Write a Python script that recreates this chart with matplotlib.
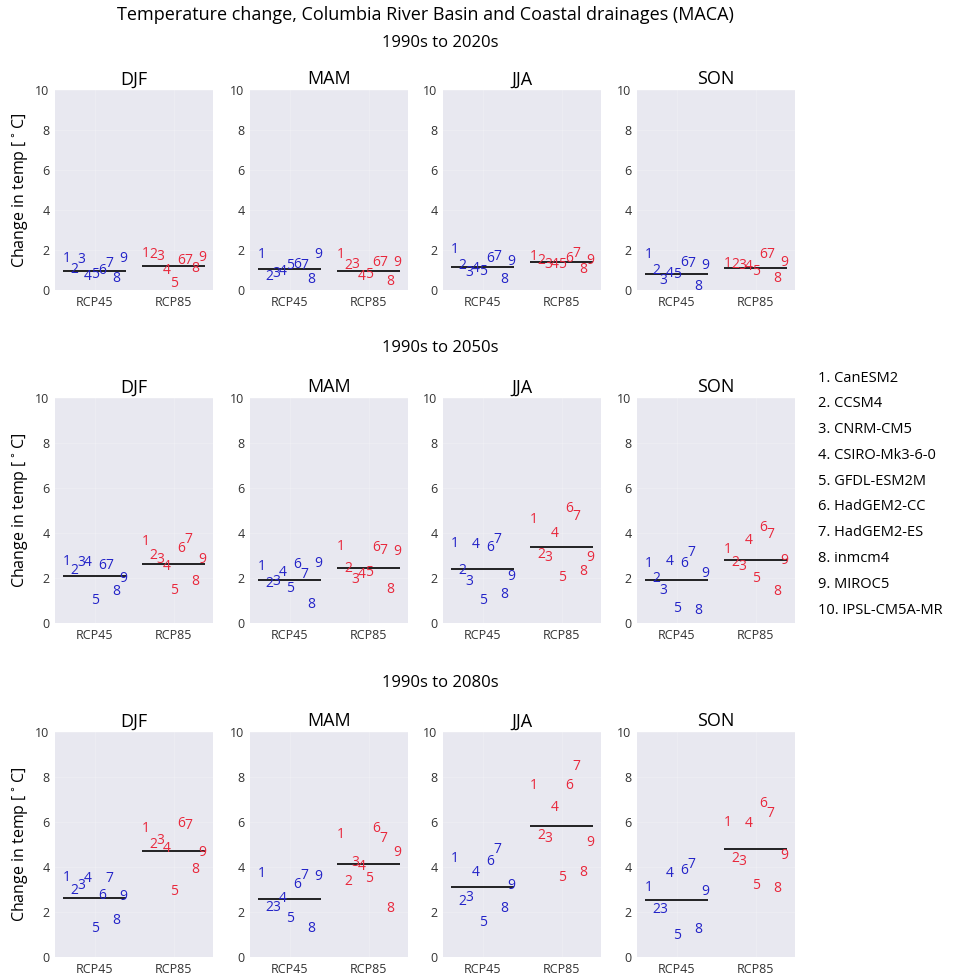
import matplotlib
matplotlib.use('Agg')
import matplotlib.pyplot as plt
import numpy as np

seasons = ['DJF', 'MAM', 'JJA', 'SON']
periods = ['1990s to 2020s', '1990s to 2050s', '1990s to 2080s']
scenarios = ['RCP45', 'RCP85']
models = ['CanESM2', 'CCSM4', 'CNRM-CM5', 'CSIRO-Mk3-6-0', 'GFDL-ESM2M',
          'HadGEM2-CC', 'HadGEM2-ES', 'inmcm4', 'MIROC5', 'IPSL-CM5A-MR']

# change in temp per model (models 1-9), one row per season
rcp45_2020s = [[1.42, 0.83, 1.33, 0.50, 0.58, 0.78, 1.17, 0.38, 1.42],
               [1.58, 0.50, 0.67, 0.75, 1.05, 1.08, 1.05, 0.33, 1.62],
               [1.83, 1.05, 0.72, 0.92, 0.75, 1.42, 1.50, 0.33, 1.25],
               [1.58, 0.78, 0.28, 0.67, 0.58, 1.20, 1.17, 0.02, 1.05]]
rcp85_2020s = [[1.67, 1.62, 1.50, 0.78, 0.17, 1.28, 1.28, 0.88, 1.45],
               [1.62, 1.05, 1.08, 0.50, 0.62, 1.20, 1.20, 0.25, 1.20],
               [1.50, 1.28, 1.08, 1.08, 1.12, 1.42, 1.67, 0.83, 1.28],
               [1.17, 1.12, 1.05, 1.00, 0.75, 1.62, 1.62, 0.42, 1.20]]
rcp45_2050s = [[2.58, 2.16, 2.53, 2.53, 0.83, 2.40, 2.40, 1.24, 1.84],
               [2.36, 1.61, 1.69, 2.10, 1.39, 2.46, 1.99, 0.68, 2.50],
               [3.39, 2.16, 1.69, 3.35, 0.83, 3.20, 3.54, 1.13, 1.91],
               [2.50, 1.81, 1.27, 2.58, 0.47, 2.50, 2.99, 0.39, 2.06]]
rcp85_2050s = [[3.47, 2.84, 2.65, 2.36, 1.27, 3.14, 3.54, 1.69, 2.65],
               [3.24, 2.28, 1.76, 1.99, 2.10, 3.20, 3.05, 1.32, 3.02],
               [4.43, 2.90, 2.76, 3.84, 1.87, 4.92, 4.58, 2.13, 2.76],
               [3.10, 2.55, 2.36, 3.50, 1.81, 4.09, 3.76, 1.24, 2.61]]
rcp45_2080s = [[3.39, 2.80, 3.02, 3.32, 1.13, 2.58, 3.35, 1.47, 2.55],
               [3.54, 2.06, 2.06, 2.43, 1.57, 3.05, 3.47, 1.10, 3.44],
               [4.24, 2.31, 2.50, 3.61, 1.36, 4.09, 4.62, 2.01, 3.02],
               [2.95, 1.96, 1.96, 3.57, 0.80, 3.69, 3.94, 1.07, 2.76]]
rcp85_2080s = [[5.54, 4.83, 5.02, 4.65, 2.76, 5.76, 5.69, 3.73, 4.50],
               [5.27, 3.20, 4.03, 3.88, 3.35, 5.54, 5.13, 2.01, 4.47],
               [7.47, 5.24, 5.10, 6.50, 3.39, 7.47, 8.31, 3.61, 4.95],
               [5.84, 4.24, 4.09, 5.76, 3.02, 6.65, 6.21, 2.90, 4.36]]

# ensemble mean lines (DJF, MAM, JJA, SON)
mean45_2020s = [0.97, 1.03, 1.17, 0.78]
mean85_2020s = [1.22, 0.97, 1.38, 1.12]
mean45_2050s = [2.10, 1.90, 2.40, 1.90]
mean85_2050s = [2.64, 2.44, 3.38, 2.81]
mean45_2080s = [2.62, 2.58, 3.11, 2.55]
mean85_2080s = [4.73, 4.15, 5.82, 4.81]

data = [(rcp45_2020s, rcp85_2020s, mean45_2020s, mean85_2020s),
        (rcp45_2050s, rcp85_2050s, mean45_2050s, mean85_2050s),
        (rcp45_2080s, rcp85_2080s, mean45_2080s, mean85_2080s)]

colors = ['#2323c8', '#e8283c']
plt.rcParams['font.family'] = ['Open Sans', 'DejaVu Sans']

fig = plt.figure(figsize=(9.77, 9.76), dpi=100)

# axes layout (pixel positions of the reference)
col_left = [55, 250, 443, 637]
row_top = [90, 398, 732]
row_h = [200, 225, 225]
W, H = 977.0, 976.0
offsets = np.linspace(-0.4, 0.4, 10)

for r in range(3):
    v45, v85, m45, m85 = data[r]
    for c in range(4):
        ax = fig.add_axes([col_left[c] / W, 1 - (row_top[r] + row_h[r]) / H,
                           158 / W, row_h[r] / H])
        ax.set_facecolor('#e8e8f0')
        for s in ax.spines.values():
            s.set_visible(False)
        ax.grid(True, color='white', alpha=0.18, lw=1)
        ax.set_axisbelow(True)
        for j, (vals, mean) in enumerate([(v45[c], m45[c]), (v85[c], m85[c])]):
            for i, v in enumerate(vals):
                ax.text(j + offsets[i], v, str(i + 1), color=colors[j],
                        fontsize=10, ha='left', va='baseline')
            ax.hlines(mean, j - 0.4, j + 0.4, color='black', lw=1.2)
        ax.set_xlim(-0.5, 1.5)
        ax.set_ylim(0, 10)
        ax.set_xticks([0, 1])
        ax.set_xticklabels(scenarios)
        ax.set_yticks(range(0, 11, 2))
        ax.tick_params(length=0, labelsize=9, labelcolor='#333333', pad=4)
        ax.set_title(seasons[c], fontsize=13, pad=4)
        if c == 0:
            ax.set_ylabel(r'Change in temp [$^\circ$C]', fontsize=11.5)

fig.text(425 / W, 1 - 15 / H,
         'Temperature change, Columbia River Basin and Coastal drainages (MACA)',
         ha='center', va='center', fontsize=13)
for r, y in enumerate([43, 348, 683]):
    fig.text(440 / W, 1 - y / H, periods[r], ha='center', va='center', fontsize=12)

for i, m in enumerate(models):
    fig.text(818 / W, 1 - (378 + i * 25.8) / H, f'{i + 1}. {m}',
             ha='left', va='center', fontsize=10.5)

fig.savefig('out.png', dpi=100)
